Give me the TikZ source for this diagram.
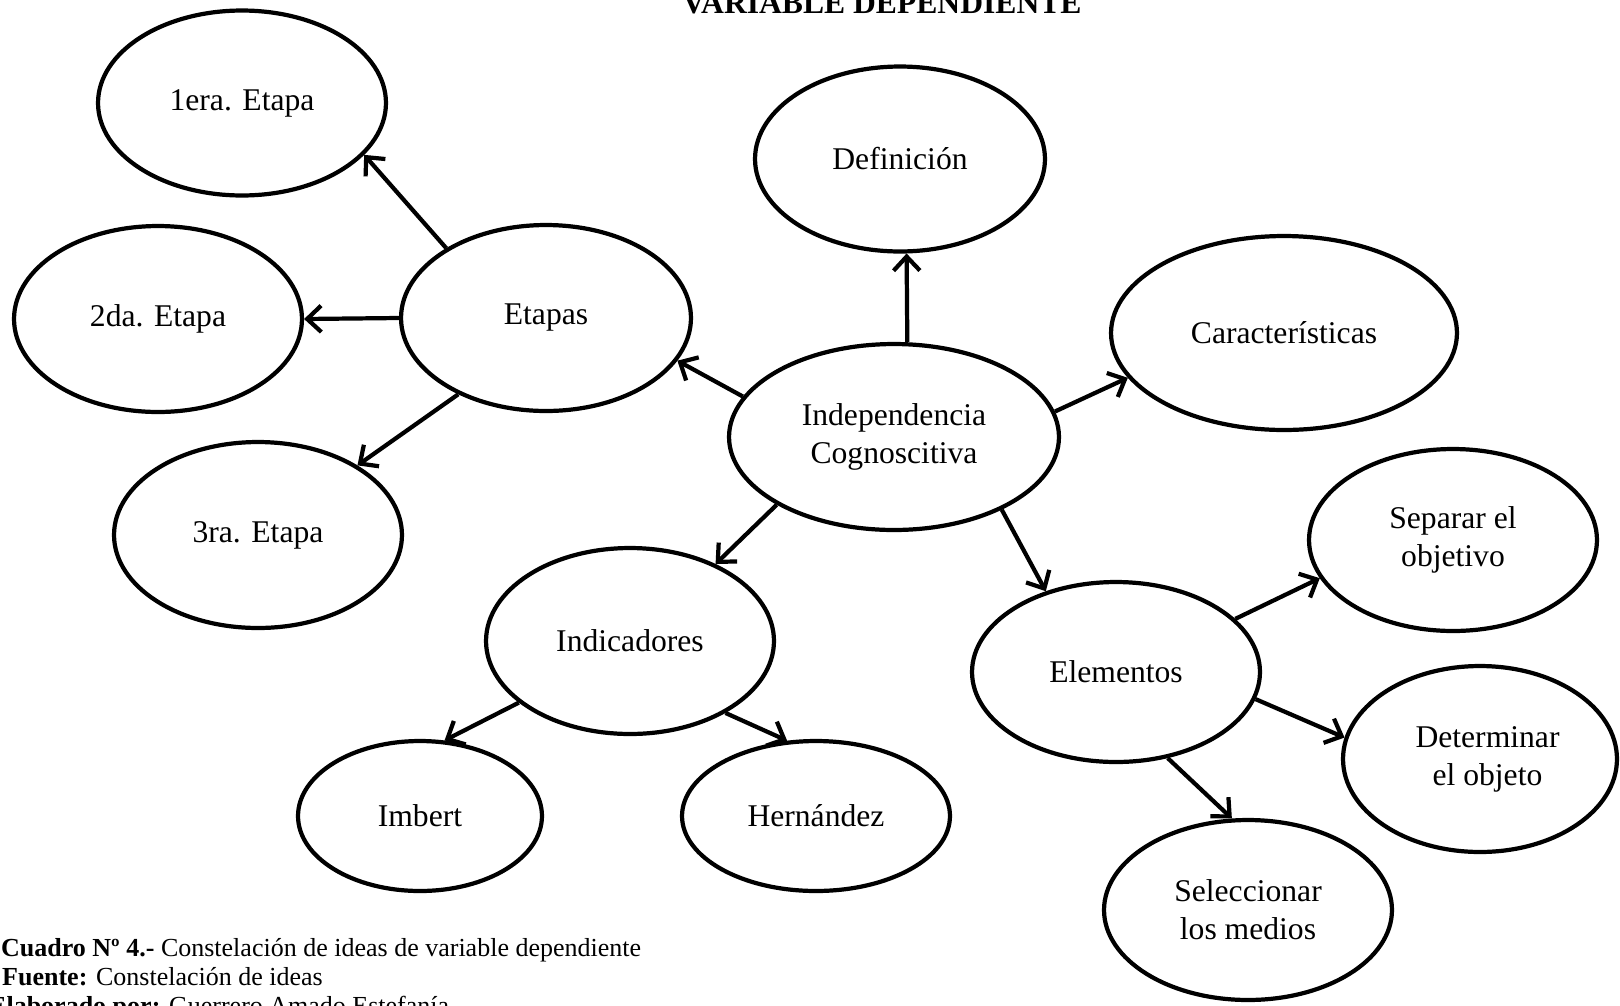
\documentclass[tikz,border=0pt]{standalone}
\usepackage{fontspec}
\setmainfont{Liberation Serif}
\usetikzlibrary{arrows.meta,shapes}

\begin{document}
\begin{tikzpicture}[x=0.02cm,y=-0.02cm,
    idea/.style={ellipse,draw,line width=2.4pt,align=center,inner sep=0pt,
      minimum width=5.76cm,minimum height=3.7cm,
      font=\fontsize{18}{21.5}\selectfont},
    flecha/.style={line width=2.4pt,-{Straight Barb[length=8pt,width=15pt]}},
    pie/.style={anchor=base west,font=\fontsize{14.8}{17}\selectfont}]

    \useasboundingbox (0,0) rectangle (1620,1005);
    \clip (0,0) rectangle (1620,1005);

    \node[anchor=base,font=\fontsize{18}{21}\selectfont\bfseries] (titulo) at (882,13) {VARIABLE DEPENDIENTE};

    % ideas
    \node[idea] (era1) at (242,103) {1era. Etapa};
    \node[idea,minimum height=3.72cm] (eta2) at (158,319) {2da. Etapa};
    \node[idea,minimum height=3.72cm] (eta3) at (258,535) {3ra. Etapa};
    \node[idea,minimum width=5.8cm,minimum height=3.72cm] (etapas) at (546,318) {Etapas};
    \node[idea,minimum width=5.8cm] (def) at (900,159) {Definición};
    \node[idea,minimum width=6.92cm,minimum height=3.88cm] (car) at (1284,333) {Características};
    \node[idea,minimum width=6.6cm,minimum height=3.72cm] (indep) at (894,437) {Independencia\\Cognoscitiva};
    \node[idea,minimum height=3.72cm] (ind) at (630,641) {Indicadores};
    \node[idea,minimum height=3.6cm] (ele) at (1116,672) {Elementos};
    \node[idea,minimum height=3.64cm] (sep) at (1453,540) {Separar el\\objetivo};
    \node[idea,minimum width=5.48cm,minimum height=3.72cm] (det) at (1480,759) {\hspace*{0.3cm}Determinar\\\hspace*{0.3cm}el objeto};
    \node[idea,minimum height=3.6cm] (sel) at (1248,910) {Seleccionar\\los medios};
    \node[idea,minimum width=4.88cm,minimum height=3cm] (imb) at (420,816) {Imbert};
    \node[idea,minimum width=5.36cm,minimum height=3cm] (her) at (816,816) {Hernández};

    % flechas
    \draw[flecha] (etapas.145) -- (era1.-23);
    \draw[flecha] (etapas.west) -- (eta2.east);
    \draw[flecha] (etapas.221) -- (eta3.35);
    \draw[flecha] (indep.165) -- (etapas.-18);
    \draw[flecha] (indep.82) -- (def.-86);
    \draw[flecha] (indep.9) -- (car.196);
    \draw[flecha] (indep.210) -- (ind.42);
    \draw[flecha] (indep.-34) -- (ele.131);
    \draw[flecha] (ind.209) -- (imb.72);
    \draw[flecha] (ind.-37) -- (her.111);
    \draw[flecha] (ele.24) -- (sep.196);
    \draw[flecha] (ele.-11) -- (det.171);
    \draw[flecha] (ele.-59) -- (sel.100);

    \node[pie] (cap1) at (-5,956) {\textbf{Cuadro Nº 4.-} Constelación de ideas de variable dependiente};
    \node[pie] (cap2) at (-4,985) {\textbf{Fuente:} Constelación de ideas};
    \node[pie] (cap3) at (-17,1014) {\textbf{Elaborado por:} Guerrero Amado Estefanía};
\end{tikzpicture}
\end{document}
